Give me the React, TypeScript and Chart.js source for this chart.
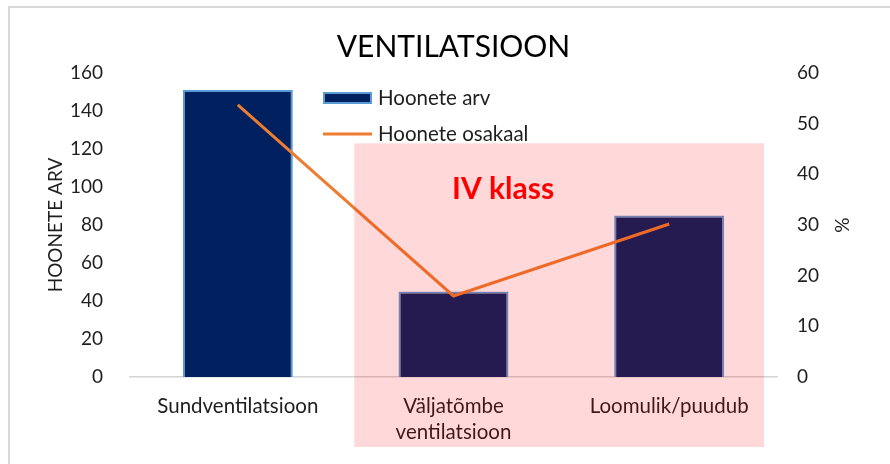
import React, { useEffect, useRef } from "react";
import { Chart, registerables } from "chart.js";

Chart.register(...registerables);

const chartTitle = "VENTILATSIOON";
const categories: (string | string[])[] = [
  "Sundventilatsioon",
  ["Väljatõmbe", "ventilatsioon"],
  "Loomulik/puudub",
];
const buildingCounts = [151, 45, 85];
const buildingShares = [53.7, 16.0, 30.2];
const seriesNames = ["Hoonete arv", "Hoonete osakaal"];
const leftAxisTitle = "HOONETE ARV";
const rightAxisTitle = "%";
const leftAxisRange = { min: 0, max: 160, step: 20 };
const rightAxisRange = { min: 0, max: 60, step: 10 };
const highlightLabel = "IV klass";

const FONT = "Lato";
const TEXT = "#1e1e1e";
const NAVY = "#002060";
const NAVY_BORDER = "#5B9BD5";
const ORANGE = "#ED7D31";

const overlayPlugin = {
  id: "overlayPlugin",
  afterDraw(chart: any) {
    const { ctx, chartArea, scales } = chart;
    const xs = scales.x;
    const ys = scales.y;
    ctx.save();

    // custom legend
    const lx = chartArea.left + 193;
    const row1 = chartArea.top + 25;
    const row2 = chartArea.top + 61;
    const ds = chart.data.datasets;
    const barDs = ds.find((d: any) => d.type === "bar");
    const lineDs = ds.find((d: any) => d.type === "line");
    ctx.fillStyle = barDs.backgroundColor;
    ctx.fillRect(lx, row1 - 6, 49, 12);
    ctx.strokeStyle = barDs.borderColor;
    ctx.lineWidth = 2;
    ctx.strokeRect(lx + 1, row1 - 5, 47, 10);
    ctx.strokeStyle = lineDs.borderColor;
    ctx.lineWidth = 3;
    ctx.beginPath();
    ctx.moveTo(lx, row2);
    ctx.lineTo(lx + 49, row2);
    ctx.stroke();
    ctx.fillStyle = TEXT;
    ctx.font = `20.5px ${FONT}`;
    ctx.textAlign = "left";
    ctx.textBaseline = "middle";
    ctx.fillText(barDs.label, lx + 55, row1);
    ctx.fillText(lineDs.label, lx + 55, row2);

    // highlight region
    const left = xs.getPixelForValue(0.54);
    const right = xs.getPixelForValue(2.44);
    const top = ys.getPixelForValue(123);
    const bottom = chartArea.bottom + 70;
    ctx.fillStyle = "rgba(255,0,0,0.15)";
    ctx.fillRect(left, top, right - left, bottom - top);

    ctx.fillStyle = "#FF0000";
    ctx.font = `bold 30px ${FONT}`;
    ctx.textAlign = "center";
    ctx.textBaseline = "middle";
    ctx.fillText(highlightLabel, xs.getPixelForValue(1.23), ys.getPixelForValue(99));
    ctx.restore();
  },
};

export default function App() {
  const ref = useRef<HTMLCanvasElement | null>(null);

  useEffect(() => {
    if (!ref.current) return;
    const chart = new Chart(ref.current, {
      type: "bar",
      data: {
        labels: categories as any,
        datasets: [
          {
            type: "line",
            label: seriesNames[1],
            data: buildingShares,
            yAxisID: "y1",
            borderColor: ORANGE,
            backgroundColor: ORANGE,
            borderWidth: 3,
            pointRadius: 0,
            tension: 0,
            order: 0,
          } as any,
          {
            type: "bar",
            label: seriesNames[0],
            data: buildingCounts,
            yAxisID: "y",
            backgroundColor: NAVY,
            borderColor: NAVY_BORDER,
            borderWidth: 2,
            barPercentage: 0.51,
            categoryPercentage: 1,
            order: 1,
          } as any,
        ],
      },
      plugins: [overlayPlugin],
      options: {
        responsive: false,
        animation: false,
        layout: { padding: { left: 0, right: 0, top: 0, bottom: 0 } },
        plugins: {
          legend: { display: false },
          tooltip: { enabled: false },
          title: {
            display: true,
            text: chartTitle,
            fullSize: false,
            color: "#000",
            font: { family: FONT, size: 30, weight: "normal" as any, lineHeight: 1.2 },
            padding: { top: 29, bottom: 8 },
          },
        },
        scales: {
          x: {
            grid: { display: true, drawOnChartArea: false, drawTicks: false },
            border: { display: true, color: "#d4d4d4", width: 1.5 },
            ticks: {
              color: TEXT,
              font: { family: FONT, size: 20.5, lineHeight: 1.27 },
              padding: 16,
              maxRotation: 0,
              autoSkip: false,
            },
            afterFit: (s: any) => {
              s.height = 87;
            },
          },
          y: {
            position: "left",
            min: leftAxisRange.min,
            max: leftAxisRange.max,
            grid: { display: false, drawTicks: false },
            border: { display: false },
            ticks: {
              stepSize: leftAxisRange.step,
              color: TEXT,
              font: { family: FONT, size: 19 },
              padding: 27,
            },
            title: {
              display: true,
              text: leftAxisTitle,
              color: TEXT,
              font: { family: FONT, size: 19, lineHeight: 1.2 },
              padding: { top: 44, bottom: 0 },
            },
            afterFit: (s: any) => {
              s.width = 130;
            },
          },
          y1: {
            position: "right",
            min: rightAxisRange.min,
            max: rightAxisRange.max,
            grid: { display: false, drawTicks: false },
            border: { display: false },
            ticks: {
              stepSize: rightAxisRange.step,
              color: TEXT,
              font: { family: FONT, size: 19 },
              padding: 20,
            },
            title: {
              display: true,
              text: rightAxisTitle,
              color: TEXT,
              font: { family: FONT, size: 19, lineHeight: 1.2 },
              padding: { top: 37, bottom: 0 },
            },
            afterFit: (s: any) => {
              s.width = 113;
            },
          },
        },
      },
    });
    return () => chart.destroy();
  }, []);

  return (
    <div style={{ position: "fixed", left: 0, top: 0, width: 890, height: 464, background: "#fff" }}>
      <div
        style={{
          position: "absolute",
          left: 8,
          top: 6,
          width: 900,
          height: 480,
          borderTop: "2px solid #d9d9d9",
          borderLeft: "2px solid #d9d9d9",
        }}
      />
      <canvas
        ref={ref}
        width={890}
        height={464}
        style={{ position: "absolute", left: 0, top: 0, width: 890, height: 464 }}
      />
    </div>
  );
}
